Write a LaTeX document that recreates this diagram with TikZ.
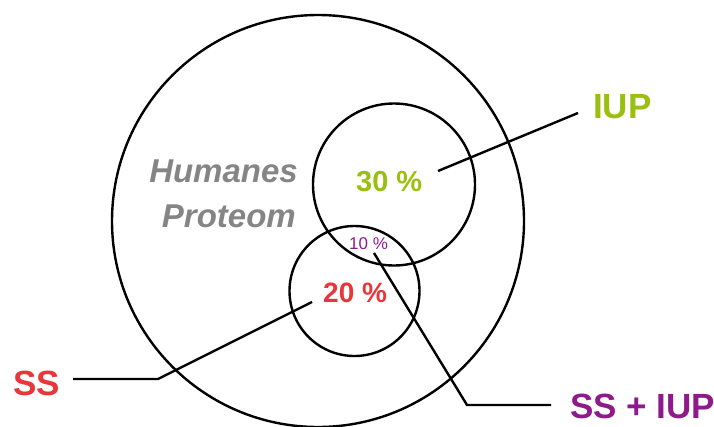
\documentclass[tikz,border=0pt]{standalone}
\usepackage{fontspec}
\setmainfont{Liberation Sans}
\definecolor{iupgreen}{HTML}{99C010}
\definecolor{ssred}{HTML}{E8363A}
\definecolor{bothpurple}{HTML}{8E1A8C}
\definecolor{protgray}{HTML}{858585}
\tikzset{
  ring/.style={draw=black, line width=2.4pt, circle, inner sep=0pt},
  lbl/.style={inner sep=0pt, anchor=base west},
  leader/.style={draw=black, line width=2.4pt, line join=miter},
}
\begin{document}
\begin{tikzpicture}[x=1pt,y=-1pt]
\useasboundingbox (0,0) rectangle (714,426);
\node[ring, minimum size=412pt] (proteome) at (318,221) {};
\node[ring, minimum size=162pt] (iupc) at (394,184.5) {};
\node[ring, minimum size=130pt] (ssc) at (354.5,291) {};

\node[inner sep=0pt, anchor=base east, text=protgray, font=\fontsize{33}{40}\selectfont\bfseries\itshape] (hum) at (298,182) {Humanes};
\node[inner sep=0pt, anchor=base east, text=protgray, font=\fontsize{33}{40}\selectfont\bfseries\itshape] (prot) at (296,227) {Proteom};

\node[lbl, text=iupgreen, font=\fontsize{29}{34}\selectfont\bfseries] (p30) at (356,191) {30 \%};
\node[lbl, text=ssred, font=\fontsize{28}{33}\selectfont\bfseries] (p20) at (323,302) {20 \%};
\node[lbl, text=bothpurple, font=\fontsize{17}{20}\selectfont] (p10) at (349,249) {10 \%};

\node[lbl, text=iupgreen, font=\fontsize{35}{40}\selectfont\bfseries] (iup) at (593,118) {IUP};
\node[lbl, text=ssred, font=\fontsize{35}{40}\selectfont\bfseries] (ss) at (13,395.5) {SS};
\node[lbl, text=bothpurple, font=\fontsize{35}{40}\selectfont\bfseries] (ssiup) at (570,418) {SS + IUP};

\coordinate (iupA) at (438,171);
\coordinate (iupB) at (578,113);
\coordinate (ssA) at (73,379);
\coordinate (ssB) at (158,379);
\coordinate (ssC) at (312,302);
\coordinate (bA) at (374,253);
\coordinate (bB) at (467,405);
\coordinate (bC) at (551,405);

\draw[leader] (iupA) -- (iupB);
\draw[leader] (ssA) -- (ssB) -- (ssC);
\draw[leader] (bA) -- (bB) -- (bC);
\end{tikzpicture}
\end{document}
